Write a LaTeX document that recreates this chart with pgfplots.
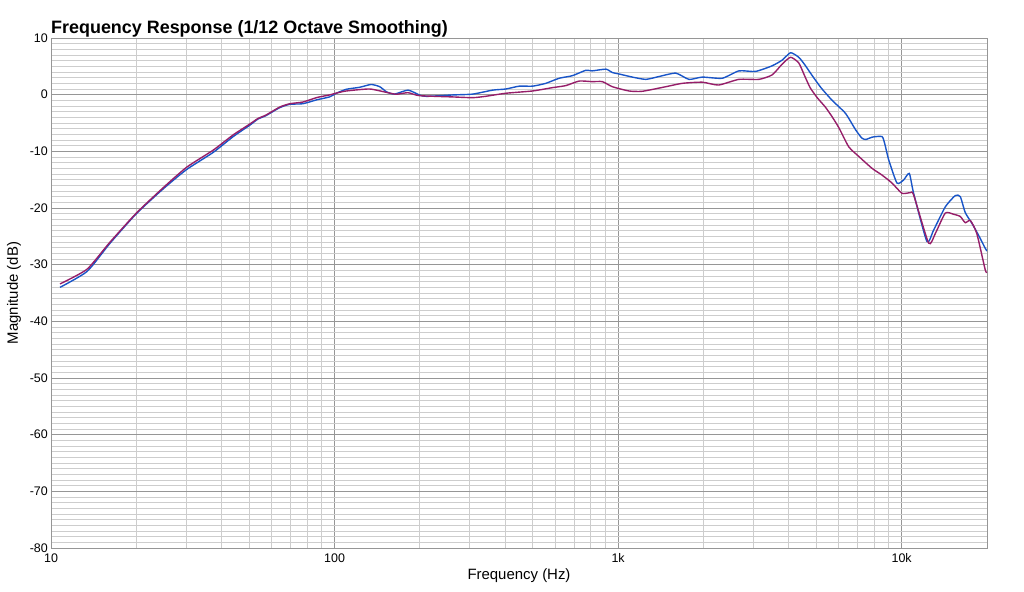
\documentclass[border=0pt]{standalone}
\usepackage{pgfplots}
\pgfplotsset{compat=1.18}
\usepackage{fontspec}
\setmainfont{Liberation Sans}
\definecolor{cblue}{RGB}{25,85,200}
\definecolor{cmag}{RGB}{150,30,105}
\definecolor{gmaj}{RGB}{150,150,150}
\definecolor{gmin}{RGB}{205,205,205}
\begin{document}
\begin{tikzpicture}
\begin{axis}[
  scale only axis, width=936bp, height=510bp,
  xmode=log, log basis x=10,
  xmin=10, xmax=20000, ymin=-80, ymax=10,
  xtick={10,100,1000,10000}, xticklabels={10,100,1k,10k},
  minor xtick={20,30,40,50,60,70,80,90,200,300,400,500,600,700,800,900,2000,3000,4000,5000,6000,7000,8000,9000},
  ytick={-80,-70,-60,-50,-40,-30,-20,-10,0,10},
  yticklabels={-80,-70,-60,-50,-40,-30,-20,-10,0,10},
  minor y tick num=9,
  grid=both,
  major grid style={draw=gmaj, line width=0.9bp},
  minor grid style={draw=gmin, line width=0.9bp},
  axis line style={draw=gmaj, line width=0.9bp},
  major tick length=0pt, minor tick length=0pt,
  /pgf/number format/assume math mode=true,
  tick label style={font=\fontsize{12.5}{14}\selectfont, inner sep=0pt},
  xticklabel style={anchor=base, yshift=-14bp},
  yticklabel style={anchor=east, xshift=-3bp},
]
\addplot[cblue, line width=1.4bp, smooth, tension=0.35] coordinates {
(10.76,-34.0) (13.4,-31.2) (16.1,-26.3) (20.0,-21.0) (24.9,-16.6) (30.1,-13.2)
(37.3,-10.2) (43.9,-7.4) (50.2,-5.4) (53.7,-4.3) (57.3,-3.7) (64.0,-2.3)
(69.5,-1.7) (77.3,-1.6) (86.7,-0.9) (96.0,-0.4) (101,0.2) (110,0.95)
(122.6,1.3) (134.6,1.8) (144.4,1.4) (152.5,0.5) (162.7,0.1) (181.6,0.8)
(199,-0.05) (210.8,-0.3) (261,-0.05) (307,0.1) (361,0.8) (402,1.0)
(448,1.5) (499,1.5) (556,2.0) (620,2.9) (690,3.35) (769,4.3) (810,4.2)
(906,4.5) (955,3.9) (1008,3.65) (1123,3.1) (1252,2.7) (1394,3.2) (1597,3.8)
(1778,2.7) (1982,3.1) (2330,2.9) (2667,4.2) (3053,4.1) (3496,5.1) (3791,6.1)
(4056,7.4) (4336,6.6) (4550,5.3) (4831,3.4) (5200,1.2) (5685,-1.0) (6337,-3.3) (6880,-6.2)
(7250,-7.7) (7500,-7.9) (7863,-7.5) (8531,-7.4) (8750,-9.0) (9000,-11.5)
(9627,-15.6) (10162,-15.05) (10640,-13.9) (11020,-17.4) (12275,-25.9)
(12962,-23.9) (14250,-19.8) (15460,-17.8) (16100,-18.0) (16760,-20.8)
(17690,-22.7) (18670,-24.8) (19710,-27.1) (20000,-27.6)
};
\addplot[cmag, line width=1.4bp, smooth, tension=0.35] coordinates {
(10.76,-33.4) (13.4,-30.8) (16.1,-26.1) (20.0,-20.9) (24.9,-16.4) (30.1,-12.8)
(37.3,-9.8) (43.9,-7.1) (50.2,-5.2) (53.7,-4.2) (57.3,-3.6) (64.0,-2.2)
(69.5,-1.6) (77.3,-1.3) (86.7,-0.5) (96.0,-0.05) (101,0.25) (110,0.65)
(132.8,1.0) (152.5,0.4) (165,0.07) (181.6,0.35) (199,-0.17) (261,-0.4)
(307,-0.53) (340,-0.3) (402,0.25) (499,0.65) (587,1.24) (654,1.6) (729,2.4)
(810,2.3) (880,2.3) (955,1.4) (1093,0.65) (1218,0.6) (1472,1.4) (1684,2.0)
(1982,2.2) (2260,1.7) (2667,2.7) (3138,2.7) (3496,3.5) (3791,5.4) (4056,6.6)
(4336,5.6) (4550,3.3) (4760,1.2) (5050,-0.6) (5383,-2.2) (5685,-3.9) (6000,-5.8)
(6508,-9.2) (7059,-10.9) (7863,-13.0) (8531,-14.2) (9247,-15.6) (10025,-17.4)
(10720,-17.3) (11020,-17.7) (12450,-26.2) (13145,-24.5) (14250,-20.9)
(15240,-21.1) (16100,-21.5) (16760,-22.6) (17460,-22.2) (18410,-24.5)
(19710,-30.9) (20000,-31.3)
};
\end{axis}
\node[anchor=base west, inner sep=0pt, font=\fontsize{18}{20}\selectfont\bfseries]
  at ([yshift=4bp]current axis.north west) {Frequency Response (1/12 Octave Smoothing)};
\node[anchor=base, inner sep=0pt, font=\fontsize{15}{17}\selectfont]
  at ([yshift=-31bp]current axis.south) {Frequency (Hz)};
\node[rotate=90, anchor=base, inner sep=0pt, font=\fontsize{15}{17}\selectfont]
  at ([xshift=-33bp]current axis.west) {Magnitude (dB)};
\pgfresetboundingbox
\path[use as bounding box] ([xshift=-51bp,yshift=-44bp]current axis.south west) rectangle ([xshift=37bp,yshift=38bp]current axis.north east);
\end{tikzpicture}
\end{document}
